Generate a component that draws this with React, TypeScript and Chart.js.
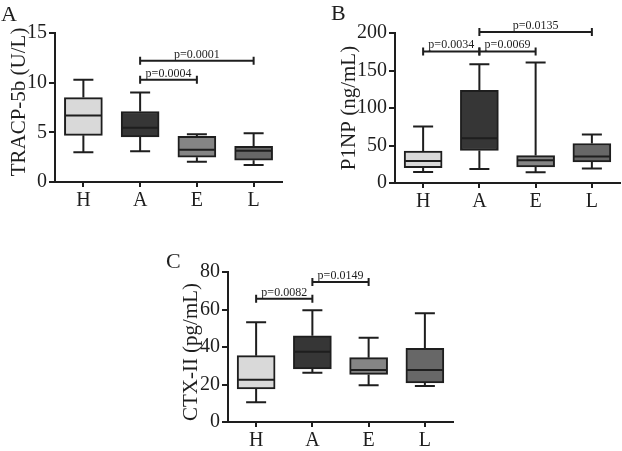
import React, { useEffect, useRef } from 'react';
import { Chart, registerables } from 'chart.js';

Chart.register(...registerables);

// ---------- data ----------
const categories = ['H', 'A', 'E', 'L'];
const boxColors = ['#d9d9d9', '#363636', '#858585', '#676767'];

// Panel A: TRACP-5b (U/L)
const tracpMin = [3.0, 3.1, 2.05, 1.7];
const tracpQ1 = [4.7, 4.55, 2.5, 2.2];
const tracpMedian = [6.7, 5.45, 3.25, 3.15];
const tracpQ3 = [8.5, 7.1, 4.6, 3.6];
const tracpMax = [10.3, 9.0, 4.8, 4.9];
const tracpTicks = { min: 0, max: 15, step: 5 };
const tracpBrackets = [
  { from: 1, to: 3, value: 12.2, label: 'p=0.0001' },
  { from: 1, to: 2, value: 10.3, label: 'p=0.0004' },
];

// Panel B: P1NP (ng/mL)
const p1npMin = [14.7, 18.8, 14.3, 19.2];
const p1npQ1 = [20.5, 43.3, 21.4, 28.1];
const p1npMedian = [29.5, 59.8, 30.4, 35.3];
const p1npQ3 = [42.4, 123.7, 36.6, 52.7];
const p1npMax = [75.4, 158.5, 160.7, 64.7];
const p1npTicks = { min: 0, max: 200, step: 50 };
const p1npBrackets = [
  { from: 0, to: 1, value: 175.4, label: 'p=0.0034' },
  { from: 1, to: 2, value: 175.4, label: 'p=0.0069' },
  { from: 1, to: 3, value: 201.3, label: 'p=0.0135' },
];

// Panel C: CTX-II (pg/mL)
const ctxMin = [10.5, 26.3, 19.6, 19.2];
const ctxQ1 = [17.6, 28.3, 25.4, 20.8];
const ctxMedian = [22.6, 37.5, 27.7, 27.7];
const ctxQ3 = [35.4, 46.0, 34.3, 39.3];
const ctxMax = [53.2, 59.6, 45.0, 58.0];
const ctxTicks = { min: 0, max: 80, step: 20 };
const ctxBrackets = [
  { from: 0, to: 1, value: 65.8, label: 'p=0.0082' },
  { from: 1, to: 2, value: 74.7, label: 'p=0.0149' },
];

// ---------- style ----------
const FONT = "'Liberation Serif', 'Times New Roman', Times, serif";
const INK = '#1e1e1e';
const BOX_W = 38;
const CAP_W = 20;
const Y_AXIS_W = 50;

type Bracket = { from: number; to: number; value: number; label: string };
type PanelProps = {
  canvas: { left: number; top: number; width: number; height: number };
  area: { l: number; t: number; r: number; b: number };
  xAxisH: number;
  ticks: { min: number; max: number; step: number };
  mins: number[];
  q1: number[];
  med: number[];
  q3: number[];
  maxs: number[];
  brackets: Bracket[];
  title: string;
  titlePos: { x: number; y: number };
  letter: string;
  letterPos: { x: number; y: number };
};

function Panel(p: PanelProps) {
  const ref = useRef<HTMLCanvasElement | null>(null);

  useEffect(() => {
    if (!ref.current) return;
    const ox = p.canvas.left;
    const oy = p.canvas.top;

    const extras = {
      id: 'boxExtras',
      afterDatasetsDraw(chart: any) {
        const { ctx } = chart;
        const x = chart.scales.x;
        const y = chart.scales.y;
        ctx.save();
        ctx.strokeStyle = INK;
        ctx.lineWidth = 2;
        p.mins.forEach((mn, i) => {
          const cx = x.getPixelForValue(i);
          const pMin = y.getPixelForValue(mn);
          const pQ1 = y.getPixelForValue(p.q1[i]);
          const pMed = y.getPixelForValue(p.med[i]);
          const pQ3 = y.getPixelForValue(p.q3[i]);
          const pMax = y.getPixelForValue(p.maxs[i]);
          ctx.beginPath();
          ctx.moveTo(cx, pQ3);
          ctx.lineTo(cx, pMax);
          ctx.moveTo(cx - CAP_W / 2, pMax);
          ctx.lineTo(cx + CAP_W / 2, pMax);
          ctx.moveTo(cx, pQ1);
          ctx.lineTo(cx, pMin);
          ctx.moveTo(cx - CAP_W / 2, pMin);
          ctx.lineTo(cx + CAP_W / 2, pMin);
          ctx.moveTo(cx - BOX_W / 2 + 1, pMed);
          ctx.lineTo(cx + BOX_W / 2 - 1, pMed);
          ctx.stroke();
        });
        // significance brackets
        ctx.font = `12px ${FONT}`;
        ctx.fillStyle = INK;
        ctx.textAlign = 'center';
        ctx.textBaseline = 'alphabetic';
        p.brackets.forEach((b) => {
          const x1 = x.getPixelForValue(b.from);
          const x2 = x.getPixelForValue(b.to);
          const py = y.getPixelForValue(b.value);
          ctx.beginPath();
          ctx.moveTo(x1, py);
          ctx.lineTo(x2, py);
          ctx.moveTo(x1, py - 4);
          ctx.lineTo(x1, py + 4);
          ctx.moveTo(x2, py - 4);
          ctx.lineTo(x2, py + 4);
          ctx.stroke();
          ctx.fillText(b.label, (x1 + x2) / 2, py - 3);
        });
        ctx.restore();
      },
      afterDraw(chart: any) {
        const { ctx } = chart;
        ctx.save();
        ctx.fillStyle = INK;
        // axis title
        ctx.font = `21px ${FONT}`;
        ctx.textAlign = 'center';
        ctx.textBaseline = 'middle';
        ctx.translate(p.titlePos.x - ox, p.titlePos.y - oy);
        ctx.rotate(-Math.PI / 2);
        ctx.fillText(p.title, 0, 0);
        ctx.restore();
        ctx.save();
        ctx.fillStyle = INK;
        ctx.font = `22px ${FONT}`;
        ctx.textAlign = 'left';
        ctx.textBaseline = 'alphabetic';
        ctx.fillText(p.letter, p.letterPos.x - ox, p.letterPos.y - oy);
        ctx.restore();
      },
    };

    const chart = new Chart(ref.current, {
      type: 'bar',
      data: {
        labels: categories,
        datasets: [
          {
            data: p.q1.map((v, i) => [v, p.q3[i]]) as any,
            backgroundColor: boxColors,
            borderColor: INK,
            borderWidth: 2,
            borderSkipped: false,
            barThickness: BOX_W,
          },
        ],
      },
      options: {
        responsive: false,
        animation: false,
        events: [],
        layout: {
          padding: {
            left: p.area.l - ox - Y_AXIS_W,
            top: p.area.t - oy,
            right: ox + p.canvas.width - p.area.r,
            bottom: oy + p.canvas.height - p.area.b - p.xAxisH,
          },
        },
        plugins: {
          legend: { display: false },
          tooltip: { enabled: false },
        },
        scales: {
          x: {
            type: 'category',
            offset: true,
            afterFit: (s: any) => {
              s.height = p.xAxisH;
            },
            border: { display: true, color: INK, width: 2 },
            grid: {
              display: true,
              drawOnChartArea: false,
              drawTicks: true,
              tickLength: 5,
              lineWidth: 2,
              color: INK,
              offset: false,
            },
            ticks: {
              color: INK,
              padding: 2,
              font: { family: FONT, size: 20 },
              maxRotation: 0,
            },
          },
          y: {
            type: 'linear',
            min: p.ticks.min,
            max: p.ticks.max,
            afterFit: (s: any) => {
              s.width = Y_AXIS_W;
            },
            border: { display: true, color: INK, width: 2 },
            grid: {
              display: true,
              drawOnChartArea: false,
              drawTicks: true,
              tickLength: 6,
              lineWidth: 2,
              color: INK,
            },
            ticks: {
              stepSize: p.ticks.step,
              color: INK,
              padding: 2,
              font: { family: FONT, size: 20 },
            },
          },
        },
      },
      plugins: [extras],
    });
    return () => chart.destroy();
  }, []);

  return (
    <canvas
      ref={ref}
      width={p.canvas.width}
      height={p.canvas.height}
      style={{
        position: 'absolute',
        left: p.canvas.left,
        top: p.canvas.top,
        width: p.canvas.width,
        height: p.canvas.height,
      }}
    />
  );
}

export default function App() {
  return (
    <div
      style={{
        position: 'absolute',
        left: 0,
        top: 0,
        width: 622,
        height: 451,
        background: '#ffffff',
        overflow: 'hidden',
      }}
    >
      <Panel
        canvas={{ left: 0, top: 0, width: 305, height: 215 }}
        area={{ l: 55, t: 33, r: 282, b: 182 }}
        xAxisH={30}
        ticks={tracpTicks}
        mins={tracpMin}
        q1={tracpQ1}
        med={tracpMedian}
        q3={tracpQ3}
        maxs={tracpMax}
        brackets={tracpBrackets}
        title="TRACP-5b (U/L)"
        titlePos={{ x: 19, y: 102 }}
        letter="A"
        letterPos={{ x: 1, y: 21 }}
      />
      <Panel
        canvas={{ left: 310, top: 0, width: 312, height: 215 }}
        area={{ l: 395, t: 33, r: 620, b: 183 }}
        xAxisH={30}
        ticks={p1npTicks}
        mins={p1npMin}
        q1={p1npQ1}
        med={p1npMedian}
        q3={p1npQ3}
        maxs={p1npMax}
        brackets={p1npBrackets}
        title="P1NP (ng/mL)"
        titlePos={{ x: 349, y: 108 }}
        letter="B"
        letterPos={{ x: 331, y: 20 }}
      />
      <Panel
        canvas={{ left: 150, top: 225, width: 320, height: 226 }}
        area={{ l: 228, t: 272, r: 453, b: 422 }}
        xAxisH={29}
        ticks={ctxTicks}
        mins={ctxMin}
        q1={ctxQ1}
        med={ctxMedian}
        q3={ctxQ3}
        maxs={ctxMax}
        brackets={ctxBrackets}
        title="CTX-II (pg/mL)"
        titlePos={{ x: 191, y: 352 }}
        letter="C"
        letterPos={{ x: 166, y: 268 }}
      />
    </div>
  );
}
